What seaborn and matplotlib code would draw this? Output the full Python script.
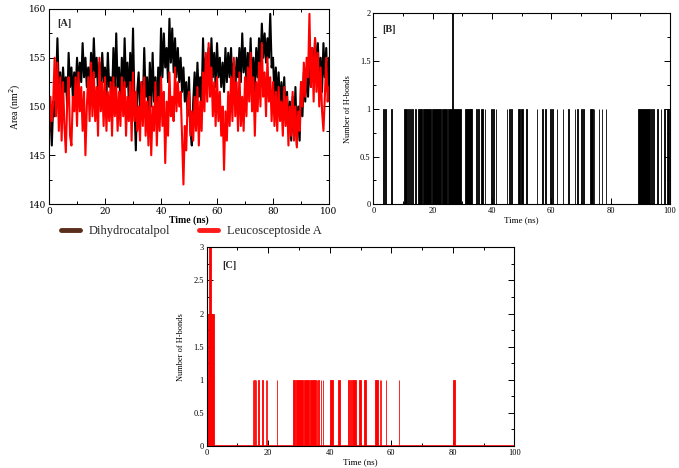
"""
Three-panel MD summary: [A] SASA of the two complexes, [B]/[C] H-bond counts.
Writes out.png (679x468).
"""
import matplotlib
matplotlib.use("Agg")
import matplotlib.pyplot as plt
from matplotlib.lines import Line2D
from matplotlib.ticker import MultipleLocator, FuncFormatter
import numpy as np
import pandas as pd
import seaborn as sns

# ---------------------------------------------------------------- data
# [A] area (nm^2), one reading every 0.5 ns from 0 to 100 ns
time_a = np.arange(0, 100.5, 0.5)

area_dihydrocatalpol = [
    147.5, 149.0, 146.0, 150.5, 149.0, 152.0, 157.0, 151.5, 153.5, 150.5,
    154.0, 151.5, 153.0, 150.0, 155.5, 152.0, 154.0, 151.0, 153.5, 151.5,
    155.0, 152.0, 154.5, 152.5, 156.5, 153.0, 155.0, 152.0, 154.0, 151.0,
    155.5, 152.5, 157.0, 153.0, 155.0, 151.5, 154.5, 152.0, 155.5, 152.5,
    154.0, 151.0, 155.5, 152.0, 153.0, 150.5, 156.0, 151.5, 157.5, 152.0,
    154.0, 150.0, 155.0, 151.0, 157.0, 152.0, 154.5, 150.5, 155.5, 151.5,
    158.0, 150.5, 145.5, 151.5, 153.5, 149.5, 152.5, 150.0, 156.0, 151.0,
    153.0, 149.0, 154.5, 150.0, 155.5, 150.5, 153.0, 149.5, 154.0, 151.0,
    158.0, 153.0, 157.5, 154.0, 156.0, 152.5, 159.0, 154.5, 158.0, 153.5,
    157.0, 153.0, 156.0, 152.5, 155.0, 151.5, 154.0, 150.5, 152.5, 149.0,
    153.0, 147.5, 146.0, 150.5, 153.5, 150.0, 154.5, 151.0, 153.0, 150.5,
    157.0, 152.0, 155.0, 153.5, 156.0, 152.5, 157.0, 153.0, 155.5, 152.0,
    156.5, 153.0, 155.0, 152.0, 154.5, 151.5, 156.0, 152.5, 155.5, 153.0,
    156.0, 152.0, 154.5, 151.5, 155.0, 153.0, 156.0, 152.5, 157.5, 153.5,
    156.0, 152.5, 155.5, 153.0, 157.0, 152.0, 155.0, 151.5, 156.0, 153.0,
    157.0, 154.0, 158.5, 155.0, 157.5, 154.5, 157.0, 155.0, 159.5, 154.0,
    155.0, 151.0, 154.0, 150.5, 153.5, 149.5, 152.5, 150.0, 153.0, 149.0,
    151.5, 147.5, 150.5, 146.5, 151.0, 147.0, 152.0, 146.0, 150.0, 146.5,
    152.5, 149.0, 153.5, 150.5, 154.0, 151.0, 155.0, 152.0, 156.0, 153.0,
    157.0, 153.5, 156.5, 152.5, 155.0, 151.5, 156.5, 153.0, 156.0, 151.5,
    155.0,
]

area_leucosceptoside = [
    147.0, 151.0, 148.5, 150.5, 155.0, 149.0, 154.5, 147.5, 153.0, 146.5,
    152.5, 148.0, 145.3, 150.5, 153.0, 147.0, 146.0, 151.0, 149.5, 153.0,
    148.0, 153.5, 149.5, 152.0, 147.5, 151.5, 145.0, 150.0, 153.0, 148.5,
    154.5, 149.0, 153.5, 148.5, 152.0, 147.0, 155.0, 149.5, 152.5, 148.0,
    153.0, 147.5, 151.5, 148.5, 152.5, 147.0, 153.0, 149.0, 152.0, 147.5,
    151.5, 148.0, 153.0, 149.0, 152.5, 147.0, 151.0, 148.5, 152.5, 146.5,
    153.5, 148.5, 151.5, 147.5, 150.0, 146.5, 152.5, 148.0, 153.0, 147.0,
    150.5, 146.0, 151.0, 145.0, 150.0, 147.5, 152.5, 146.0, 151.0, 147.5,
    153.0, 148.0, 151.5, 144.2, 150.5, 147.0, 153.5, 149.0, 151.0, 148.5,
    154.0, 149.5, 152.5, 150.0, 151.5, 147.0, 142.0, 148.0, 145.5, 150.5,
    151.5, 147.0, 149.5, 146.5, 151.0, 147.5, 152.0, 146.0, 150.5, 147.5,
    153.5, 149.5, 155.5, 150.5, 156.5, 151.0, 154.0, 149.0, 152.5, 148.0,
    153.0, 148.5, 151.5, 147.0, 150.0, 143.5, 149.5, 146.5, 151.5, 148.0,
    153.0, 148.5, 155.0, 149.0, 152.5, 147.5, 153.5, 148.0, 151.0, 147.5,
    153.0, 149.0, 154.0, 150.5, 155.5, 149.5, 153.0, 147.0, 152.5, 149.5,
    154.5, 150.0, 156.5, 151.0, 153.5, 149.0, 155.0, 150.5, 153.0, 148.5,
    152.5, 148.0, 151.5, 147.5, 152.0, 148.5, 150.5, 147.0, 152.0, 148.0,
    151.0, 146.0, 150.0, 147.0, 151.5, 146.5, 150.0, 145.8, 149.5, 147.5,
    152.5, 150.0, 154.5, 151.0, 155.0, 153.0, 159.5, 152.0, 156.0, 150.5,
    157.0, 151.5, 155.5, 150.0, 154.0, 149.5, 147.5, 151.0, 155.0, 150.5,
    152.0,
]

# [B] H-bonds, Dihydrocatalpol: occupied windows (ns) and bond count
b_start = [3.3, 4.1, 5.9, 10.2, 11.8, 12.4, 13.0, 14.2, 15.2, 16.6, 19.9, 23.1,
           25.3, 26.5, 27.0, 31.0, 32.5, 34.6, 35.3, 36.3, 37.5, 39.8, 40.5,
           41.2, 45.0, 45.7, 46.5, 48.9, 49.9, 51.5, 55.1, 56.8, 57.9, 59.6,
           60.2, 61.8, 63.8, 65.6, 67.9, 68.8, 70.1, 70.8, 72.9, 74.3, 76.0,
           77.0, 78.3, 89.3, 93.6, 94.4, 95.6, 96.8, 97.8, 98.9]
b_end = [3.5, 4.3, 6.3, 11.4, 12.1, 12.7, 13.5, 14.4, 16.3, 19.6, 22.8, 25.0,
         26.5, 26.7, 29.6, 33.0, 33.3, 34.9, 35.6, 37.1, 37.8, 40.1, 40.8,
         41.5, 45.2, 45.9, 46.8, 49.5, 50.6, 51.7, 55.3, 57.1, 58.1, 59.9,
         60.4, 62.0, 64.0, 65.8, 68.1, 69.0, 70.3, 71.0, 74.0, 74.5, 76.2,
         77.2, 78.5, 93.2, 93.9, 94.6, 95.9, 97.0, 98.4, 99.6]
b_count = [1] * 13 + [2] + [1] * 40

# [C] H-bonds, Leucosceptoside A
c_start = [0.0, 0.3, 0.9, 1.5, 15.0, 15.4, 16.0, 16.8, 18.1, 19.2, 19.5, 22.8,
           28.2, 29.0, 31.7, 33.5, 35.8, 36.3, 37.0, 37.7, 40.1, 42.6, 46.0,
           46.6, 47.3, 47.7, 49.6, 51.1, 54.8, 56.3, 56.6, 58.2, 62.4, 80.2]
c_end = [0.3, 0.9, 1.5, 2.3, 15.15, 15.55, 16.15, 16.95, 18.25, 19.35, 19.65,
         22.95, 28.7, 31.4, 33.2, 35.5, 35.95, 36.45, 37.15, 37.85, 40.9, 43.3,
         46.15, 46.75, 47.45, 48.4, 50.2, 51.8, 55.8, 56.45, 56.75, 58.35,
         62.55, 80.8]
c_count = [1, 2, 3, 2] + [1] * 30

# ---------------------------------------------------------------- style
sns.set_theme(style="ticks")
plt.rcParams["font.family"] = "serif"
plt.rcParams["font.serif"] = ["Liberation Serif", "DejaVu Serif"]
plt.rcParams.update({"axes.edgecolor": "black", "xtick.color": "black",
                     "ytick.color": "black", "axes.labelcolor": "black",
                     "axes.linewidth": 0.8})

fig = plt.figure(figsize=(6.79, 4.68), dpi=100)
ax_a = fig.add_axes([0.0722, 0.5641, 0.4124, 0.4167])
ax_b = fig.add_axes([0.5498, 0.5635, 0.4370, 0.4080])
ax_c = fig.add_axes([0.3044, 0.0470, 0.4532, 0.4246])


def frame(ax, ymaj, ymin, fs, fam):
    ax.set_xlim(0, 100)
    ax.xaxis.set_major_locator(MultipleLocator(20))
    ax.xaxis.set_minor_locator(MultipleLocator(10))
    ax.yaxis.set_major_locator(MultipleLocator(ymaj))
    ax.yaxis.set_minor_locator(MultipleLocator(ymin))
    ax.yaxis.set_major_formatter(FuncFormatter(lambda v, p: f"{v:g}"))
    ax.tick_params(which="both", direction="in", top=True, right=True,
                   width=0.7, pad=2, labelsize=fs)
    ax.tick_params(which="major", length=4)
    ax.tick_params(which="minor", length=2)
    for lab in ax.get_xticklabels() + ax.get_yticklabels():
        lab.set_family(fam)


# [A] ------------------------------------------------------------------
df_a = pd.DataFrame({
    "time": np.concatenate([time_a, time_a]),
    "area": area_dihydrocatalpol + area_leucosceptoside,
    "compound": ["Dihydrocatalpol"] * len(time_a) + ["Leucosceptoside A"] * len(time_a),
})
sns.lineplot(data=df_a, x="time", y="area", hue="compound",
             palette={"Dihydrocatalpol": "black", "Leucosceptoside A": "#ff0000"},
             estimator=None, sort=False, lw=1.5, legend=False, ax=ax_a)
ax_a.set_ylim(140, 160)
frame(ax_a, 5, 2.5, 6.5, "DejaVu Serif")
ax_a.set_xlabel("Time (ns)", fontsize=7, fontweight="bold", labelpad=0)
ax_a.set_ylabel("Area (nm$^2$)", fontsize=7, labelpad=4)
ax_a.text(0.03, 0.95, "[A]", transform=ax_a.transAxes, fontsize=7.5,
          fontweight="bold", va="top")

handles = [Line2D([], [], color="#5a2e1a", lw=3.5),
           Line2D([], [], color="#ff1a1a", lw=3.5)]
fig.legend(handles, ["Dihydrocatalpol", "Leucosceptoside A"], ncol=2,
           loc="center left", bbox_to_anchor=(0.074, 0.506), frameon=False,
           fontsize=9, handlelength=1.5, handletextpad=0.7,
           columnspacing=2.3)

# [B] ------------------------------------------------------------------
ax_b.bar(b_start, b_count, width=np.subtract(b_end, b_start), align="edge",
         color="black", edgecolor="black", linewidth=0.6)
ax_b.set_ylim(0, 2)
frame(ax_b, 0.5, 0.25, 6, "Liberation Serif")
ax_b.set_xlabel("Time (ns)", fontsize=6.5, labelpad=1)
ax_b.set_ylabel("Number of H-bonds", fontsize=6, labelpad=6)
ax_b.text(0.03, 0.94, "[B]", transform=ax_b.transAxes, fontsize=7.5,
          fontweight="bold", va="top")

# [C] ------------------------------------------------------------------
ax_c.bar(c_start, c_count, width=np.subtract(c_end, c_start), align="edge",
         color="#ff0000", edgecolor="#ff0000", linewidth=0.6)
ax_c.axhline(0, color="#ff0000", lw=1.2)
ax_c.set_ylim(0, 3)
frame(ax_c, 0.5, 0.25, 6, "Liberation Serif")
ax_c.set_xlabel("Time (ns)", fontsize=6.5, labelpad=1)
ax_c.set_ylabel("Number of H-bonds", fontsize=6, labelpad=6)
ax_c.text(0.05, 0.93, "[C]", transform=ax_c.transAxes, fontsize=7.5,
          fontweight="bold", va="top")

fig.savefig("out.png", dpi=100)
